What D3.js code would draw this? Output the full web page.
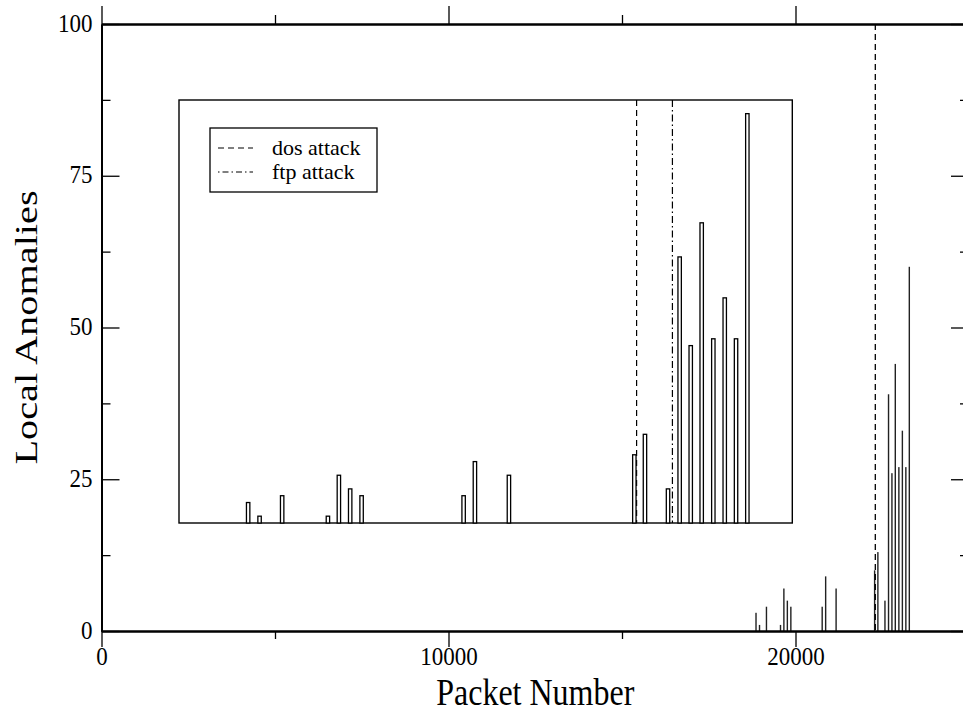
<!DOCTYPE html>
<html>
<meta charset="utf-8" />
<style>
  body { margin: 0; background: #fff; }
  text { font-family: "Liberation Serif", "Times New Roman", serif; fill: #000; }
</style>
<svg width="963" height="715"></svg>
<script src="https://d3js.org/d3.v7.min.js"></script>
<script>
// packet numbers where local anomalies were counted, and the counts
var packets = [18862, 18963, 19163, 19568, 19665, 19765, 19866, 20769, 20869, 21170,
               22280, 22374, 22578, 22681, 22779, 22876, 22979, 23080, 23180, 23280];
var anomalies = [3, 1, 4, 1, 7, 5, 4, 4, 9, 7,
                 10, 13, 5, 39, 26, 44, 27, 33, 27, 60];
var dosAttack = 22300;
var ftpAttack = 22617;
var xMajor = [0, 10000, 20000];
var xMinor = [5000, 15000];
var yMajor = [0, 25, 50, 75, 100];
var yMinor = [12.5, 37.5, 62.5, 87.5];
var legendLabels = ["dos attack", "ftp attack"];

var svg = d3.select("svg");
var stretch = 1.1;       // tick labels look a bit taller than wide
var titleStretch = 1.2;  // axis titles even more so

var data = packets.map(function(p, i) { return {p: p, v: anomalies[i]}; });

var x = d3.scaleLinear().domain([0, 25000]).range([101.5, 969]);
var y = d3.scaleLinear().domain([0, 100]).range([631, 24]);

// main bars (thin)
svg.append("g").selectAll("rect")
  .data(data)
  .enter().append("rect")
    .attr("x", function(d) { return x(d.p) - 0.7; })
    .attr("width", 1.4)
    .attr("y", function(d) { return y(d.v); })
    .attr("height", function(d) { return y(0) - y(d.v); })
    .attr("fill", "#222");

// dos attack line in main graph
svg.append("line")
  .attr("x1", x(dosAttack)).attr("x2", x(dosAttack))
  .attr("y1", y(100)).attr("y2", y(0))
  .attr("stroke", "#000").attr("stroke-width", 1.3)
  .attr("stroke-dasharray", "6,4");

function styleAxis(g) {
  g.selectAll("path.domain").attr("stroke-width", 2);
  g.selectAll(".tick line").attr("stroke-width", 1.3);
  g.attr("font-size", null).attr("font-family", null);
}

// bottom
svg.append("g").attr("transform", "translate(0," + y(0) + ")")
  .call(d3.axisBottom(x).tickValues(xMinor).tickSize(8).tickSizeOuter(0).tickFormat(""))
  .call(styleAxis);
var bx = svg.append("g").attr("transform", "translate(0," + y(0) + ")")
  .call(d3.axisBottom(x).tickValues(xMajor).tickSize(16).tickSizeOuter(0).tickFormat(d3.format("d")))
  .call(styleAxis);

// top
svg.append("g").attr("transform", "translate(0," + y(100) + ")")
  .call(d3.axisTop(x).tickValues(xMinor).tickSize(9).tickSizeOuter(0).tickFormat(""))
  .call(styleAxis);
svg.append("g").attr("transform", "translate(0," + y(100) + ")")
  .call(d3.axisTop(x).tickValues(xMajor).tickSize(18).tickSizeOuter(0).tickFormat(""))
  .call(styleAxis);

// left (ticks inward)
svg.append("g").attr("transform", "translate(" + x(0) + ",0)")
  .call(d3.axisLeft(y).tickValues(yMinor).tickSize(-9).tickSizeOuter(0).tickFormat(""))
  .call(styleAxis);
var ly = svg.append("g").attr("transform", "translate(" + x(0) + ",0)")
  .call(d3.axisLeft(y).tickValues(yMajor).tickSize(-18).tickSizeOuter(0))
  .call(styleAxis);

// right (ticks inward)
svg.append("g").attr("transform", "translate(" + x(25000) + ",0)")
  .call(d3.axisRight(y).tickValues(yMinor).tickSize(-9).tickSizeOuter(0).tickFormat(""))
  .call(styleAxis);
svg.append("g").attr("transform", "translate(" + x(25000) + ",0)")
  .call(d3.axisRight(y).tickValues(yMajor).tickSize(-18).tickSizeOuter(0).tickFormat(""))
  .call(styleAxis);

// tick label text, stretched vertically
bx.selectAll(".tick text")
  .attr("font-size", 23)
  .attr("dy", null)
  .attr("y", null)
  .attr("transform", "translate(0,34) scale(1," + stretch + ")");
ly.selectAll(".tick text")
  .attr("font-size", 23)
  .attr("dy", null)
  .attr("x", null)
  .attr("transform", "translate(-9,7) scale(1," + stretch + ")");

// axis titles
svg.append("text")
  .attr("text-anchor", "middle")
  .attr("font-size", 32)
  .attr("transform", "translate(" + (x(0) + x(25000)) / 2 + ",705) scale(1," + titleStretch + ")")
  .text("Packet Number");

svg.append("text")
  .attr("text-anchor", "middle")
  .attr("font-size", 32)
  .attr("transform", "translate(37," + (y(0) + y(100)) / 2 + ") scale(1,1.26) rotate(-90)")
  .text("Local Anomalies");

// ---- inset ----
var xi = d3.scaleLinear().domain([18250, 23678]).range([179, 792.3]);
var yi = d3.scaleLinear().domain([0, 62]).range([523, 100]);

var inset = svg.append("g");

inset.append("rect")
  .attr("x", xi.range()[0]).attr("y", yi.range()[1])
  .attr("width", xi.range()[1] - xi.range()[0])
  .attr("height", yi.range()[0] - yi.range()[1])
  .attr("fill", "#fff").attr("stroke", "#000").attr("stroke-width", 1.4);

inset.append("line")
  .attr("x1", xi(dosAttack)).attr("x2", xi(dosAttack))
  .attr("y1", yi(62)).attr("y2", yi(0))
  .attr("stroke", "#000").attr("stroke-width", 1.2)
  .attr("stroke-dasharray", "6,4");

inset.append("line")
  .attr("x1", xi(ftpAttack)).attr("x2", xi(ftpAttack))
  .attr("y1", yi(62)).attr("y2", yi(0))
  .attr("stroke", "#000").attr("stroke-width", 1.2)
  .attr("stroke-dasharray", "7,3,1.5,3");

inset.append("g").selectAll("rect")
  .data(data)
  .enter().append("rect")
    .attr("x", function(d) { return xi(d.p) - 1.7; })
    .attr("width", 3.4)
    .attr("y", function(d) { return yi(d.v); })
    .attr("height", function(d) { return yi(0) - yi(d.v); })
    .attr("fill", "#fff")
    .attr("stroke", "#000").attr("stroke-width", 1.3);

// legend
var lg = inset.append("g").attr("transform", "translate(210,128)");
lg.append("rect")
  .attr("width", 167).attr("height", 64)
  .attr("fill", "#fff").attr("stroke", "#000").attr("stroke-width", 1.3);

var dashes = ["6,4", "1.5,3,6,3"];
lg.selectAll(".item")
  .data(legendLabels)
  .enter().append("g")
    .attr("class", "item")
    .attr("transform", function(d, i) { return "translate(0," + (20 + i * 24) + ")"; })
    .each(function(d, i) {
      var g = d3.select(this);
      g.append("line")
        .attr("x1", 8).attr("x2", 43)
        .attr("stroke", "#000").attr("stroke-width", 1.2)
        .attr("stroke-dasharray", dashes[i]);
      g.append("text")
        .attr("font-size", 22)
        .attr("transform", "translate(62,7)")
        .text(d);
    });
</script>
</html>
